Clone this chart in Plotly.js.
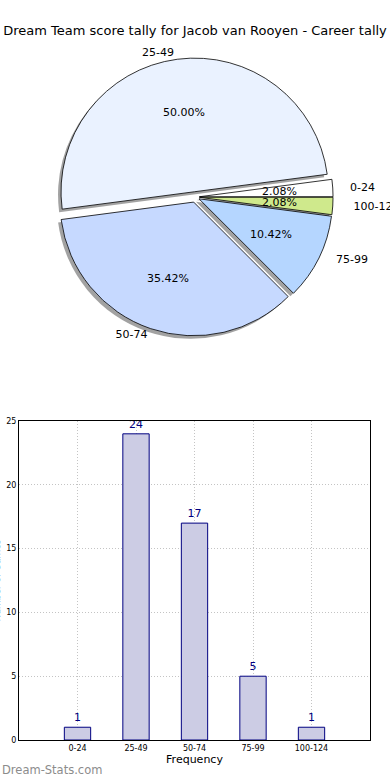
<!DOCTYPE html>
<html>
<head>
<meta charset="utf-8">
<script src="https://cdn.plot.ly/plotly-3.0.1.min.js"></script>
<style>html,body{margin:0;padding:0;background:#fff;}#chart{width:390px;height:780px;}</style>
</head>
<body>
<div id="chart"></div>
<script>
const categories = ["0-24", "25-49", "50-74", "75-99", "100-124"];
const counts = [1, 24, 17, 5, 1];
const pieColors = ["#ffffff", "#eaf2ff", "#c6d9ff", "#b5d6ff", "#cfe98c"];
const pullValues = [0.03, 0.04, 0.04, 0.03, 0.03];
const chartTitle = "Dream Team score tally for Jacob van Rooyen - Career tally";
const yTitle = "Number of Games";
const xTitle = "Frequency";
const watermark = "Dream-Stats.com";

const FONT = "DejaVu Sans, sans-serif";
const NB = "\u00a0";
const W = 390, H = 780, ML = 19, MR = 20, MT = 0, MB = 40;
const plotW = W - ML - MR, plotH = H - MT - MB;
const pieDomain = {x: [0.011, 0.994], y: [0.5459, 0.9216]};
const sdx = -3/plotW, sdy = -3/plotH;
const labelPad = [4, 0, 0, 4, 5];
const labelTexts = categories.map((c, i) => NB.repeat(labelPad[i]) + c);

// percent labels at 0.6 radius (plus pull) along each slice's mid angle
const total = counts.reduce((a, b) => a + b, 0);
const pctX = [], pctY = [], pctText = [];
let cum = 0;
counts.forEach((v, i) => {
  const mid = (cum + v / 2) / total * 2 * Math.PI;
  cum += v;
  const rr = 0.6 + pullValues[i];
  pctX.push(rr * Math.cos(mid));
  pctY.push(rr * Math.sin(mid));
  pctText.push((v / total * 100).toFixed(2) + "%");
});
const domWpx = (pieDomain.x[1] - pieDomain.x[0]) * plotW;
const domHpx = (pieDomain.y[1] - pieDomain.y[0]) * plotH;
const rPx = Math.min(domWpx, domHpx) / (2 + 2 * Math.max(...pullValues));
const xr = domWpx / 2 / rPx, yr = domHpx / 2 / rPx;

const common = {
  type: "pie", labels: categories, values: counts, sort: false,
  direction: "counterclockwise", rotation: 82.5, pull: pullValues
};
const shadow = Object.assign({}, common, {
  domain: {x: [pieDomain.x[0] + sdx, pieDomain.x[1] + sdx], y: [pieDomain.y[0] + sdy, pieDomain.y[1] + sdy]},
  marker: {colors: categories.map(() => "rgba(70,70,70,0.5)"), line: {width: 0}},
  textinfo: "none", hoverinfo: "skip", showlegend: false
});
const mainPie = Object.assign({}, common, {
  domain: pieDomain,
  marker: {colors: pieColors, line: {color: "#000", width: 0.8}},
  textinfo: "none", showlegend: false
});
const labelPie = Object.assign({}, common, {
  domain: pieDomain,
  marker: {colors: categories.map(() => "rgba(0,0,0,0)"), line: {width: 0}},
  text: labelTexts, textinfo: "text", textposition: "outside",
  outsidetextfont: {family: FONT, size: 11, color: "#000"},
  hoverinfo: "skip", showlegend: false
});
const bars = {
  type: "bar", x: categories, y: counts, width: 0.45,
  marker: {color: "#ccccE4", line: {color: "#000080", width: 1}},
  text: counts.map(String), textposition: "outside", cliponaxis: false,
  textfont: {family: FONT, size: 11, color: "#000080"},
  showlegend: false
};
// invisible anchor trace so the pie-overlay axes exist
const anchorTrace = {
  type: "scatter", mode: "markers", x: pctX, y: pctY, xaxis: "x2", yaxis: "y2",
  marker: {opacity: 0}, hoverinfo: "skip", showlegend: false
};

const pctAnnotations = pctText.map((t, i) => ({
  text: t, x: pctX[i], y: pctY[i], xref: "x2", yref: "y2",
  xanchor: "center", yanchor: "middle", showarrow: false,
  font: {family: FONT, size: 11, color: "#000"}
}));

const layout = {
  width: W, height: H,
  margin: {l: ML, r: MR, t: MT, b: MB},
  paper_bgcolor: "#fff", plot_bgcolor: "rgba(0,0,0,0)",
  font: {family: FONT, color: "#000"},
  title: {text: chartTitle, font: {family: FONT, size: 13, color: "#000"}, x: 0.5, xanchor: "center", y: 1 - 30/H, yanchor: "middle", yref: "container"},
  xaxis: {
    domain: [0, 1], type: "category", range: [-1, 5],
    showgrid: true, gridcolor: "#c4c4c4", griddash: "1px,2px", gridwidth: 1,
    showline: true, mirror: true, linecolor: "#000", linewidth: 1,
    ticks: "", tickfont: {family: FONT, size: 8, color: "#000"},
    title: {text: xTitle, font: {family: FONT, size: 11, color: "#000"}, standoff: 3},
    automargin: false, zeroline: false
  },
  yaxis: {
    domain: [0, 0.431], range: [0, 25], tickvals: [0, 5, 10, 15, 20, 25],
    showgrid: true, gridcolor: "#c4c4c4", griddash: "1px,2px", gridwidth: 1,
    showline: true, mirror: true, linecolor: "#000", linewidth: 1,
    ticks: "", tickfont: {family: FONT, size: 8, color: "#000"},
    automargin: false, zeroline: false
  },
  xaxis2: {domain: pieDomain.x, range: [-xr, xr], visible: false, fixedrange: true, anchor: "y2"},
  yaxis2: {domain: pieDomain.y, range: [-yr, yr], visible: false, fixedrange: true, anchor: "x2"},
  annotations: pctAnnotations.concat([
    {
      text: yTitle, xref: "paper", yref: "paper", x: -22/plotW, y: 0.2155,
      xanchor: "center", yanchor: "middle", textangle: -90, showarrow: false,
      font: {family: FONT, size: 9, color: "#000"}
    },
    {
      text: watermark, xref: "paper", yref: "paper", x: -ML/plotW, y: -30/plotH,
      xanchor: "left", yanchor: "middle", showarrow: false,
      font: {family: FONT, size: 11.5, color: "#8c8c8c"}
    }
  ])
};

Plotly.newPlot("chart", [anchorTrace, shadow, mainPie, labelPie, bars], layout, {displayModeBar: false, staticPlot: true});
</script>
</body>
</html>
